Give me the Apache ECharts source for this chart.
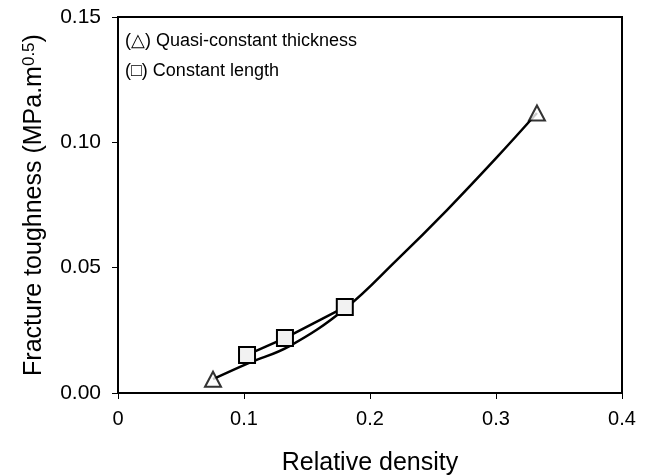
<!DOCTYPE html>
<html><head><meta charset="utf-8">
<script src="https://cdn.jsdelivr.net/npm/echarts@6/dist/echarts.min.js"></script>
<style>html,body{margin:0;padding:0;background:#fff}#c{width:645px;height:475px}</style>
</head><body><div id="c"></div>
<script>
var triX = [0.0754, 0.3325];
var triY = [0.0055, 0.1117];
var sqX = [0.1024, 0.1325, 0.180];
var sqY = [0.0152, 0.0219, 0.0343];
var fitX = [0.0754, 0.1032, 0.1365, 0.180, 0.2214, 0.2611, 0.3008, 0.3325];
var fitY = [0.0055, 0.0118, 0.0188, 0.0335, 0.0531, 0.0730, 0.0941, 0.1117];
var xTicks = {min: 0, max: 0.4, interval: 0.1};
var yTicks = {min: 0, max: 0.15, interval: 0.05};
var legendLines = ['(\u25B3) Quasi-constant thickness', '(\u25A1) Constant length'];

function zip(a, b) { return a.map(function (v, i) { return [v, b[i]]; }); }
var font = 'Liberation Sans, Arial, sans-serif';
var chart = echarts.init(document.getElementById('c'));
chart.setOption({
  animation: false,
  backgroundColor: '#fff',
  grid: {left: 118, right: 23, top: 17, bottom: 82, show: true, borderColor: '#000', borderWidth: 2, backgroundColor: 'transparent', outerBoundsMode: 'none', containLabel: false},
  xAxis: {
    type: 'value', min: xTicks.min, max: xTicks.max, interval: xTicks.interval,
    name: 'Relative density', nameLocation: 'middle', nameGap: 58,
    nameTextStyle: {fontFamily: font, fontSize: 25, color: '#000'},
    axisLine: {show: true, lineStyle: {color: '#000', width: 2}},
    axisTick: {show: true, inside: false, length: 6, lineStyle: {color: '#000', width: 1}},
    axisLabel: {fontFamily: font, fontSize: 20, color: '#000', margin: 16,
      formatter: function (v) { return v === 0 ? '0' : v.toFixed(1); }},
    splitLine: {show: false}
  },
  yAxis: {
    type: 'value', min: yTicks.min, max: yTicks.max, interval: yTicks.interval,
    name: '{n|Fracture toughness (MPa.m}{s|0.5}{n|)}', nameLocation: 'middle', nameGap: 70,
    nameTextStyle: {rich: {n: {fontFamily: font, fontSize: 25, color: '#000'}, s: {fontFamily: font, fontSize: 17, color: '#000', verticalAlign: 'top', padding: [0, 0, 10, 0]}}},
    axisLine: {show: true, lineStyle: {color: '#000', width: 2}},
    axisTick: {show: true, inside: false, length: 6, lineStyle: {color: '#000', width: 1}},
    axisLabel: {fontFamily: font, fontSize: 21, color: '#000', margin: 17,
      formatter: function (v) { return v.toFixed(2); }},
    splitLine: {show: false}
  },
  graphic: legendLines.map(function (t, i) {
    return {type: 'text', left: 125, top: 32 + i * 30, style: {text: t, font: '18px ' + font, fill: '#000'}};
  }),
  series: [
    {type: 'line', data: zip(fitX, fitY), smooth: 0.4, symbol: 'none', lineStyle: {color: '#000', width: 2.5}, z: 2},
    {type: 'line', data: zip(sqX, sqY), symbol: 'rect', symbolSize: 16, itemStyle: {color: '#f2f2f2', borderColor: '#000', borderWidth: 2}, lineStyle: {color: '#000', width: 2.5}, z: 3},
    {type: 'scatter', data: zip(triX, triY), symbol: 'triangle', symbolSize: [16, 15], itemStyle: {color: '#fff', borderColor: '#000', borderWidth: 2}, z: 4}
  ]
});
</script></body></html>
